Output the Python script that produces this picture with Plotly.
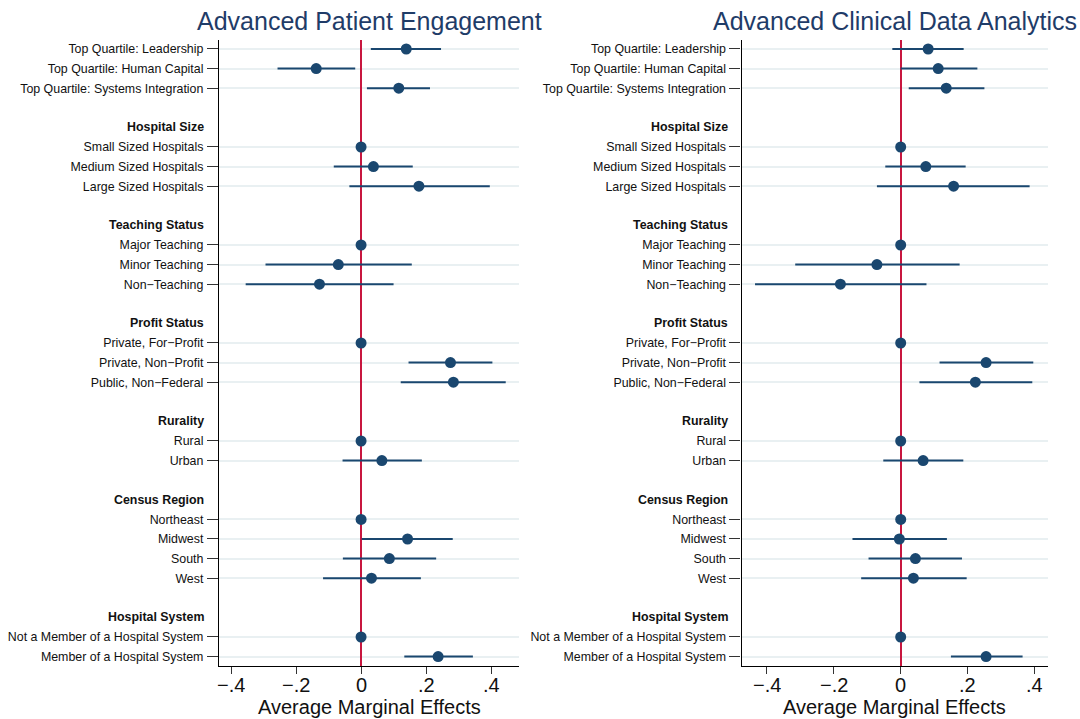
import plotly.graph_objects as go

# Covariate groups (header, items); the first block has no header
group_headers = [None, "Hospital Size", "Teaching Status", "Profit Status",
                 "Rurality", "Census Region", "Hospital System"]
group_items = [
    ["Top Quartile: Leadership", "Top Quartile: Human Capital",
     "Top Quartile: Systems Integration"],
    ["Small Sized Hospitals", "Medium Sized Hospitals", "Large Sized Hospitals"],
    ["Major Teaching", "Minor Teaching", "Non\u2212Teaching"],
    ["Private, For\u2212Profit", "Private, Non\u2212Profit", "Public, Non\u2212Federal"],
    ["Rural", "Urban"],
    ["Northeast", "Midwest", "South", "West"],
    ["Not a Member of a Hospital System", "Member of a Hospital System"],
]

# Advanced Patient Engagement: estimate, lower and upper 95% bounds
pe_est = [0.139, -0.138, 0.116, 0, 0.038, 0.178, 0, -0.070, -0.128,
          0, 0.275, 0.284, 0, 0.064, 0, 0.143, 0.087, 0.032, 0, 0.237]
pe_lo = [0.030, -0.257, 0.018, 0, -0.084, -0.036, 0, -0.294, -0.355,
         0, 0.146, 0.122, 0, -0.057, 0, 0.002, -0.056, -0.117, 0, 0.133]
pe_hi = [0.246, -0.018, 0.212, 0, 0.159, 0.396, 0, 0.156, 0.100,
         0, 0.404, 0.445, 0, 0.187, 0, 0.282, 0.231, 0.184, 0, 0.344]

# Advanced Clinical Data Analytics
cda_est = [0.082, 0.112, 0.136, 0, 0.075, 0.158, 0, -0.071, -0.180,
           0, 0.255, 0.223, 0, 0.067, 0, -0.004, 0.044, 0.038, 0, 0.255]
cda_lo = [-0.025, 0.000, 0.024, 0, -0.046, -0.071, 0, -0.315, -0.435,
          0, 0.116, 0.056, 0, -0.052, 0, -0.144, -0.096, -0.118, 0, 0.150]
cda_hi = [0.188, 0.229, 0.250, 0, 0.194, 0.385, 0, 0.176, 0.077,
          0, 0.396, 0.393, 0, 0.187, 0, 0.138, 0.183, 0.197, 0, 0.364]

panel_titles = ["Advanced Patient Engagement", "Advanced Clinical Data Analytics"]
x_tickvals = [-0.4, -0.2, 0, 0.2, 0.4]
x_ticktext = ["\u2212.4", "\u2212.2", "0", ".2", ".4"]
x_title = "Average Marginal Effects"

# Row layout: a blank row and a header row before every headed group
item_rows, item_labels, header_rows = [], [], []
row = 0
for header, items in zip(group_headers, group_items):
    if header is not None:
        row += 1
        header_rows.append((row, header))
        row += 1
    for lab in items:
        item_rows.append(row)
        item_labels.append(lab)
        row += 1
n_rows = row

NAVY = "#1a476f"
RED = "#c8163f"
GRID = "#e9f0f2"
TEXT = "#111111"
FONT = "Liberation Sans, Arial, sans-serif"
LABEL_SIZE = 12.4
TICK_SIZE = 20
AXIS_TITLE_SIZE = 20
TITLE_SIZE = 25

fig = go.Figure()

panels = [
    dict(est=pe_est, lo=pe_lo, hi=pe_hi, xa="x", ya="y",
         dom=[0.2028, 0.4806], xr=[-0.437, 0.486], hx=0.1903),
    dict(est=cda_est, lo=cda_lo, hi=cda_hi, xa="x2", ya="y2",
         dom=[0.6867, 0.9704], xr=[-0.475, 0.440], hx=0.6755),
]

y_dom = [0.0737, 0.9444]
y_range = [n_rows - 1 + 0.48, -0.46]

for i, p in enumerate(panels):
    fig.add_trace(go.Scatter(
        x=p["est"], y=item_rows, mode="markers",
        marker=dict(color=NAVY, size=11, line=dict(width=0)),
        error_x=dict(type="data", symmetric=False,
                     array=[h - e for h, e in zip(p["hi"], p["est"])],
                     arrayminus=[e - l for e, l in zip(p["est"], p["lo"])],
                     color=NAVY, thickness=2, width=0),
        xaxis=p["xa"], yaxis=p["ya"], showlegend=False, hoverinfo="skip",
    ))
    sfx = "" if i == 0 else "2"
    fig.update_layout(**{
        "xaxis" + sfx: dict(
            domain=p["dom"], range=p["xr"], anchor="y" + sfx,
            tickvals=x_tickvals, showticklabels=False,
            showgrid=False, zeroline=True, zerolinecolor=RED, zerolinewidth=2,
            showline=True, linecolor="black", linewidth=1.3,
            ticks="outside", ticklen=7, tickwidth=1.3, tickcolor="#333",
        ),
        "yaxis" + sfx: dict(
            domain=y_dom, range=y_range, anchor="x" + sfx,
            tickvals=item_rows, ticktext=item_labels,
            showgrid=True, gridcolor=GRID, gridwidth=2, zeroline=False,
            showline=True, linecolor="black", linewidth=1.3,
            ticks="outside", ticklen=11, tickwidth=1.3, tickcolor="#333",
            ticklabelstandoff=1,
            tickfont=dict(family=FONT, size=LABEL_SIZE, color=TEXT),
        ),
    })
    # x tick labels, placed just under the tick marks
    for v, t in zip(x_tickvals, x_ticktext):
        fig.add_annotation(
            x=v, xref=p["xa"], y=0.0473, yref="paper", text=t,
            showarrow=False, xanchor="center", yanchor="middle",
            height=16, borderpad=0,
            font=dict(family=FONT, size=TICK_SIZE, color=TEXT),
        )
    fig.add_annotation(
        x=sum(p["dom"]) / 2, xref="paper", y=0.0, yref="paper",
        text=x_title, showarrow=False, xanchor="center", yanchor="bottom",
        borderpad=0,
        font=dict(family=FONT, size=AXIS_TITLE_SIZE, color=TEXT),
    )
    # group headers in bold, aligned with the tick labels
    for r, h in header_rows:
        fig.add_annotation(
            x=p["hx"], xref="paper", y=r, yref=p["ya"],
            text="<b>" + h + "</b>", showarrow=False,
            xanchor="right", yanchor="middle",
            font=dict(family=FONT, size=LABEL_SIZE, color=TEXT),
        )
    fig.add_annotation(
        x=sum(p["dom"]) / 2, xref="paper", y=0.9708, yref="paper",
        text=panel_titles[i], showarrow=False,
        xanchor="center", yanchor="middle",
        font=dict(family=FONT, size=TITLE_SIZE, color="#1f3c68"),
    )

fig.update_layout(
    width=1080, height=719,
    margin=dict(l=0, r=0, t=0, b=0),
    paper_bgcolor="white", plot_bgcolor="white",
    showlegend=False,
)

fig.write_html("out.html")
